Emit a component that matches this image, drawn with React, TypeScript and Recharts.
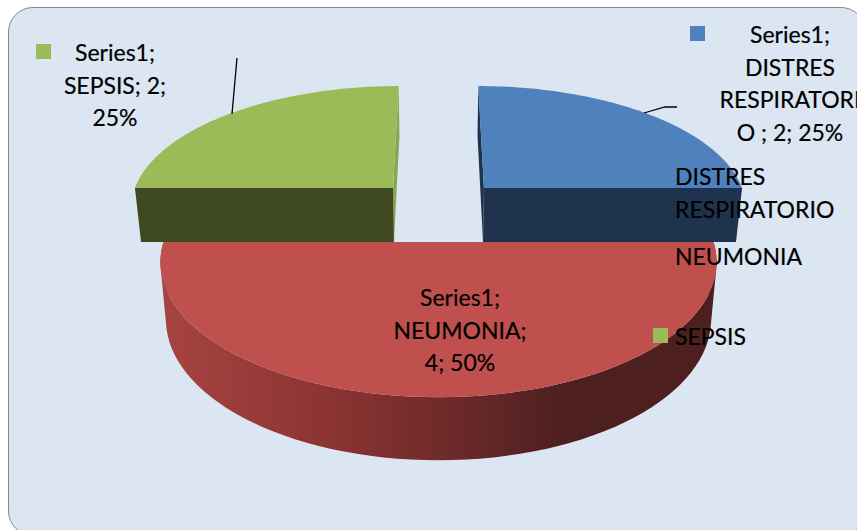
import { PieChart, Pie, Cell, Legend } from "recharts";

const seriesName = "Series1";
const categories = ["DISTRES RESPIRATORIO", "NEUMONIA", "SEPSIS"];
const values = [2, 4, 2];
const percents = [25, 50, 25];

// wrapped text of each data label, in category order
const labelLines = [
  ["Series1;", "DISTRES", "RESPIRATORI", "O ; 2; 25%"],
  ["Series1;", "NEUMONIA;", "4; 50%"],
  ["Series1;", "SEPSIS; 2;", "25%"],
];
const legendLines = [["DISTRES", "RESPIRATORIO"], ["NEUMONIA"], ["SEPSIS"]];

const topColors = ["#4f81bd", "#c0504d", "#9bbb59"];
const faceColors = ["#1f334e", "#4d1f1f", "#404a22"];
const sliverColors = ["#1f334e", "#4d1f1f", "#8aa652"];

const labelLayout = [
  { x: 790, baseline: 43, keyX: 690, keyY: 26, leader: "644,113 665,107 677,107" },
  { x: 460, baseline: 306, keyX: 366, keyY: 288, leader: "" },
  { x: 115, baseline: 61, keyX: 36, keyY: 44, leader: "232,114 237,58" },
];
const legendTops = [160, 240, 320];

const chartData = categories.map((name, i) => ({ name, value: values[i], percent: percents[i] }));

const FONT = "Lato, sans-serif";
const FONT_SIZE = 23;
const LINE_HEIGHT = 32.6;

// projection of the pie plane: back of the disc shrinks, front grows
const PERSPECTIVE = 0.15;
const SQUASH = 0.48;
const EXPLODE_X = 0.176;
const EXPLODE_Y = 0.436;

type Pt = [number, number];

function project(X: number, Y: number, cx: number, cy: number, r: number): Pt {
  const s = 1 / (1 - PERSPECTIVE * Y);
  return [cx + r * X * s, cy + r * SQUASH * Y * s];
}

// same point on the underside of the slab
function lower([x, y]: Pt, cx: number, cy: number): Pt {
  return [cx + (x - cx) * 0.98, cy + (y - cy) * 1.043 + 56.3];
}

const toPath = (pts: Pt[]) =>
  "M" + pts.map((p) => `${p[0].toFixed(2)},${p[1].toFixed(2)}`).join("L") + "Z";

// quads wound the same way, so a single nonzero fill gives their union without seams
function windSame(q: Pt[]): Pt[] {
  let area = 0;
  q.forEach((p, i) => {
    const n = q[(i + 1) % q.length];
    area += p[0] * n[1] - n[0] * p[1];
  });
  return area < 0 ? [...q].reverse() : q;
}

function Slice3D(props: any) {
  const { cx, cy, outerRadius: r, startAngle, endAngle, fill, name } = props;
  const idx = categories.indexOf(name);
  const mid = ((startAngle + endAngle) / 2) * (Math.PI / 180);
  const isBack = Math.sin(mid) > 0;
  const ox = isBack ? Math.sign(Math.cos(mid)) * EXPLODE_X : 0;
  const oy = isBack ? -EXPLODE_Y : 0;

  const at = (deg: number): Pt => {
    const a = (deg * Math.PI) / 180;
    return project(ox + Math.cos(a), oy - Math.sin(a), cx, cy, r);
  };

  const steps = 72;
  const arc: Pt[] = [];
  for (let i = 0; i <= steps; i++) {
    arc.push(at(startAngle + ((endAngle - startAngle) * i) / steps));
  }
  const hub = project(ox, oy, cx, cy, r);
  const low = (p: Pt) => lower(p, cx, cy);

  if (!isBack) {
    // rim of the front slice
    let rim = "";
    for (let i = 0; i < steps; i++) {
      rim += toPath(windSame([arc[i], arc[i + 1], low(arc[i + 1]), low(arc[i])]));
    }
    return (
      <g>
        <defs>
          <linearGradient id="rimShade" gradientUnits="userSpaceOnUse" x1={cx - r} y1={0} x2={cx + 130} y2={0}>
            <stop offset="0" stopColor="#a64441" />
            <stop offset="0.42" stopColor="#8a3331" />
            <stop offset="0.7" stopColor="#6e2a2a" />
            <stop offset="1" stopColor={faceColors[idx]} />
          </linearGradient>
        </defs>
        <path d={rim} fill="url(#rimShade)" />
        <path d={toPath([hub, ...arc])} fill={fill} />
      </g>
    );
  }

  // back slices show the flat cut towards the viewer and a thin radial edge
  const startsAtApex = Math.abs(Math.sin((startAngle * Math.PI) / 180)) > 0.5;
  const apex = startsAtApex ? arc[0] : arc[arc.length - 1];
  const corner = startsAtApex ? arc[arc.length - 1] : arc[0];
  return (
    <g>
      <path d={toPath([apex, hub, low(hub), low(apex)])} fill={sliverColors[idx]} />
      <path d={toPath([corner, hub, low(hub), low(corner)])} fill={faceColors[idx]} />
      <path d={toPath([hub, ...arc])} fill={fill} />
    </g>
  );
}

function DataLabel(props: any) {
  const idx = categories.indexOf(props.name);
  const layout = labelLayout[idx];
  return (
    <g>
      {layout.leader && <polyline points={layout.leader} fill="none" stroke="#000" strokeWidth={1.3} />}
      <rect x={layout.keyX} y={layout.keyY} width={15} height={15} fill={topColors[idx]} />
      <text
        x={layout.x}
        textAnchor="middle"
        fontFamily={FONT}
        fontSize={FONT_SIZE}
        fill="#000"
        stroke="#000"
        strokeWidth={0.2}
      >
        {labelLines[idx].map((line, i) => (
          <tspan key={i} x={layout.x} y={layout.baseline + i * LINE_HEIGHT}>
            {line}
          </tspan>
        ))}
      </text>
    </g>
  );
}

function ChartLegend() {
  return (
    <div style={{ position: "relative", width: 200, height: 200 }}>
      {categories.map((name, i) => (
        <div key={name} style={{ position: "absolute", left: 0, top: legendTops[i] - 160 }}>
          <span
            style={{
              position: "absolute",
              left: 0,
              top: 8,
              width: 15,
              height: 15,
              background: topColors[i],
            }}
          />
          <div
            style={{
              marginLeft: 22,
              fontFamily: FONT,
              fontSize: FONT_SIZE,
              lineHeight: `${LINE_HEIGHT}px`,
              color: "#000",
              WebkitTextStroke: "0.2px #000",
              whiteSpace: "nowrap",
            }}
          >
            {legendLines[i].map((line) => (
              <div key={line}>{line}</div>
            ))}
          </div>
        </div>
      ))}
    </div>
  );
}

export default function App() {
  return (
    <div style={{ position: "absolute", left: 0, top: 0, width: 857, height: 530, overflow: "hidden", background: "#fff" }}>
      <div
        style={{
          position: "absolute",
          left: 8,
          top: 7,
          width: 858,
          height: 529,
          boxSizing: "border-box",
          background: "#dce6f2",
          border: "1.5px solid #868686",
          borderRadius: 25,
        }}
      />
      <div style={{ position: "absolute", left: 0, top: 0 }}>
        <PieChart width={857} height={530} margin={{ top: 0, right: 0, bottom: 0, left: 0 }}>
          <Pie
            data={chartData}
            dataKey="value"
            nameKey="name"
            name={seriesName}
            cx={438.5}
            cy={242}
            outerRadius={275}
            startAngle={90}
            endAngle={-270}
            stroke="none"
            isAnimationActive={false}
            shape={Slice3D}
            label={DataLabel}
            labelLine={false}
          >
            {categories.map((name, i) => (
              <Cell key={name} fill={topColors[i]} />
            ))}
          </Pie>
          <Legend
            layout="horizontal"
            verticalAlign="bottom"
            content={<ChartLegend />}
            wrapperStyle={{ position: "absolute", left: 653, top: 160, width: 200, bottom: "auto" }}
          />
        </PieChart>
      </div>
    </div>
  );
}
